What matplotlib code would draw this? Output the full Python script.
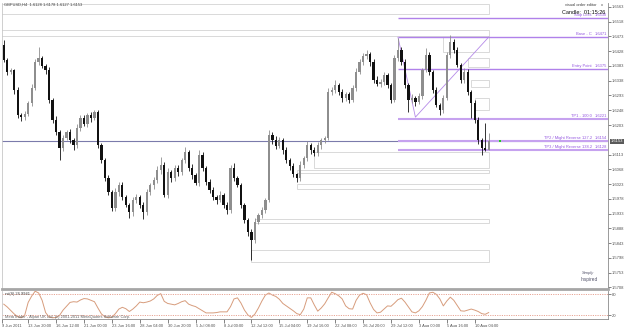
import matplotlib
matplotlib.use('agg')
import matplotlib.pyplot as plt
from matplotlib.patches import Rectangle

plt.rcParams['font.family'] = ['Liberation Sans', 'DejaVu Sans']

# GBPUSD H4, one candle per 8h, closes
first_open = 1.6447
closes = [1.6401, 1.6364, 1.6370, 1.6309, 1.6233, 1.6227, 1.6236, 1.6270, 1.6316, 1.6395,
          1.6407, 1.6383, 1.6370, 1.6279, 1.6218, 1.6181, 1.6133, 1.6163, 1.6181, 1.6157,
          1.6142, 1.6194, 1.6224, 1.6206, 1.6233, 1.6224, 1.6242, 1.6142, 1.6096, 1.6041,
          1.5998, 1.5950, 1.5998, 1.6020, 1.5983, 1.5959, 1.5937, 1.5974, 1.5983, 1.5959,
          1.5937, 1.5998, 1.6020, 1.6035, 1.6065, 1.6081, 1.5989, 1.6059, 1.6041, 1.6072,
          1.6059, 1.6096, 1.6120, 1.6072, 1.6050, 1.6026, 1.6111, 1.6072, 1.6029, 1.6004,
          1.5983, 1.5974, 1.5989, 1.5959, 1.5943, 1.6072, 1.6041, 1.6020, 1.5959, 1.5913,
          1.5876, 1.5852, 1.5907, 1.5928, 1.5943, 1.5974, 1.6172, 1.6157, 1.6139, 1.6157,
          1.6126, 1.6096, 1.6078, 1.6053, 1.6041, 1.6081, 1.6102, 1.6142, 1.6126, 1.6117,
          1.6142, 1.6157, 1.6163, 1.6303, 1.6309, 1.6325, 1.6303, 1.6285, 1.6297, 1.6279,
          1.6316, 1.6364, 1.6395, 1.6413, 1.6419, 1.6395, 1.6340, 1.6328, 1.6334, 1.6355,
          1.6325, 1.6279, 1.6407, 1.6432, 1.6395, 1.6325, 1.6279, 1.6285, 1.6273, 1.6291,
          1.6370, 1.6416, 1.6364, 1.6309, 1.6264, 1.6248, 1.6285, 1.6416, 1.6456, 1.6432,
          1.6386, 1.6340, 1.6364, 1.6303, 1.6270, 1.6218, 1.6157, 1.6133, 1.6128, 1.6153]
# wicks beyond the body, in pips
wick_up = [15, 6, 8, 5, 10, 7, 9, 6, 12, 8,
           34, 7, 5, 9, 6, 11, 8, 10, 6, 9,
           7, 12, 8, 10, 6, 9, 6, 8, 5, 7,
           9, 6, 12, 8, 10, 7, 5, 9, 11, 6,
           8, 10, 7, 9, 12, 24, 8, 14, 6, 10,
           9, 7, 16, 8, 11, 6, 15, 9, 7, 8,
           10, 6, 12, 7, 9, 9, 14, 8, 6, 7,
           5, 9, 12, 8, 10, 7, 15, 9, 11, 8,
           6, 10, 7, 9, 5, 11, 8, 12, 7, 9,
           10, 6, 8, 13, 9, 15, 7, 10, 8, 6,
           9, 12, 8, 10, 13, 7, 9, 11, 8, 10,
           7, 6, 10, 36, 8, 9, 7, 12, 6, 10,
           8, 22, 9, 7, 10, 6, 11, 9, 21, 8,
           10, 7, 12, 9, 6, 10, 8, 7, 76, 25]
wick_dn = [6, 8, 7, 10, 9, 12, 8, 6, 10, 7,
           9, 6, 11, 8, 10, 7, 37, 9, 6, 10,
           16, 8, 10, 7, 9, 11, 6, 8, 10, 9,
           7, 10, 8, 12, 9, 6, 18, 10, 8, 9,
           21, 7, 9, 12, 8, 10, 6, 9, 11, 8,
           10, 7, 9, 8, 12, 6, 9, 10, 8, 7,
           9, 11, 7, 10, 12, 8, 9, 6, 10, 8,
           12, 61, 9, 7, 10, 8, 6, 11, 9, 7,
           10, 8, 12, 7, 12, 9, 9, 8, 10, 7,
           9, 11, 8, 6, 10, 7, 9, 12, 8, 10,
           7, 9, 6, 10, 8, 11, 9, 7, 10, 8,
           9, 9, 7, 8, 10, 9, 37, 8, 11, 7,
           9, 6, 10, 8, 7, 15, 9, 6, 8, 10,
           7, 9, 8, 10, 46, 9, 12, 22, 5, 1]
rsi = [51, 43, 33, 23, 15, 12, 19, 56, 74, 88,
       83, 62, 27, 14, 12, 13, 19, 34, 45, 56,
       58, 57, 63, 67, 66, 62, 58, 40, 23, 15,
       12, 14, 24, 37, 42, 38, 30, 37, 46, 57,
       55, 57, 60, 66, 76, 81, 59, 53, 51, 49,
       53, 58, 61, 51, 47, 44, 38, 32, 26, 26,
       26, 27, 29, 29, 29, 44, 66, 69, 54, 34,
       20, 13, 23, 40, 60, 77, 83, 77, 73, 65,
       53, 46, 39, 32, 24, 21, 37, 69, 69, 49,
       31, 40, 52, 69, 85, 81, 75, 66, 46, 38,
       37, 62, 77, 82, 78, 55, 36, 26, 28, 37,
       46, 45, 54, 64, 68, 57, 43, 29, 26, 32,
       44, 62, 83, 85, 79, 66, 46, 60, 71, 62,
       47, 32, 31, 34, 37, 34, 30, 24, 22, 26.9941]
rsi_levels = [80, 20]

price_ticks = [1.6563, 1.6518, 1.6473, 1.6428, 1.6383, 1.6338, 1.6293, 1.6248, 1.6203,
               1.6113, 1.6068, 1.6023, 1.5978, 1.5933, 1.5888, 1.5843, 1.5798, 1.5753, 1.5708]
time_labels = ["9 Jun 2011", "13 Jun 20:00", "16 Jun 12:00", "21 Jun 00:00", "23 Jun 16:00",
               "28 Jun 04:00", "30 Jun 20:00", "5 Jul 08:00", "8 Jul 00:00", "12 Jul 12:00",
               "15 Jul 04:00", "19 Jul 16:00", "22 Jul 08:00", "26 Jul 20:00", "29 Jul 12:00",
               "3 Aug 00:00", "5 Aug 16:00", "10 Aug 04:00"]

# visual order editor levels
level_names = ["Stop Loss", "Base - C", "Entry Point", "TP1 - 100.0",
               "TP2 / Might Reverse 127.2", "TP3 / Might Reverse 138.2"]
level_prices = [1.6530, 1.6471, 1.6375, 1.6221, 1.6154, 1.6128]
level_start = 113
abc_bar = [113, 118, 139]
abc_price = [1.6471, 1.6227, 1.6471]

# support/resistance zones (start bar, top, bottom)
zone_start = [-1, -1, 126, 133, 134, 135, 89, 84, 84, 72, 71]
zone_top = [1.6572, 1.6492, 1.6474, 1.6407, 1.6340, 1.6285, 1.6120, 1.6065, 1.6023, 1.5916, 1.5822]
zone_bot = [1.6541, 1.6474, 1.6425, 1.6380, 1.6319, 1.6248, 1.6072, 1.6056, 1.6008, 1.5904, 1.5785]

bid = 1.6153
W, H = 625.0, 327.0

fig = plt.figure(figsize=(6.25, 3.27), dpi=100)
ax = fig.add_axes([2/W, 1-289/H, 606/W, 286/H])
ax2 = fig.add_axes([2/W, 1-319/H, 606/W, 28/H])

n = len(closes)
idx = list(range(n))
opens = [first_open] + closes[:-1]
highs = [max(o, c) + u/10000.0 for o, c, u in zip(opens, closes, wick_up)]
lows = [min(o, c) - d/10000.0 for o, c, d in zip(opens, closes, wick_dn)]
cols = ['#8e8e8e' if c >= o else '#111111' for o, c in zip(opens, closes)]
bodies = [max(abs(c-o), 0.00006) for o, c in zip(opens, closes)]
bottoms = [min(o, c) for o, c in zip(opens, closes)]

xmax = 173.2
# zones
for s, t, b in zip(zone_start, zone_top, zone_bot):
    ax.add_patch(Rectangle((s, b), n-0.9-s, t-b, fill=False, ec='#d9d9d9', lw=0.7, zorder=1))

ax.axhline(bid, color='#7b7bab', lw=0.8, zorder=1)
ax.vlines(idx, lows, highs, colors=cols, lw=0.6, zorder=3)
ax.bar(idx, bodies, bottom=bottoms, width=0.65, color=cols, lw=0, zorder=3)

for i, (name, p) in enumerate(zip(level_names, level_prices)):
    tp = name.startswith('TP')
    ax.hlines(p, level_start, xmax, colors='#c6a2ef' if tp else '#b081ea',
              lw=1.5 if tp else 1.0, zorder=2)
    ax.text(168.6, p+0.0002, name, fontsize=2.9, color='#9456e0', ha='right', va='bottom', zorder=4)
    ax.text(173.0, p+0.0002, "%.4f" % p, fontsize=2.9, color='#9456e0', ha='right', va='bottom', zorder=4)
ax.plot(abc_bar, abc_price, color='#b58ae8', lw=0.6, zorder=2)
ax.plot([n+2.2], [bid], 's', color='#22cc22', ms=2.0, mew=0, zorder=5)

ax.set_xlim(-0.5, xmax)
ax.set_ylim(1.5703, 1.6575)
ax.set_xticks([])
ax.yaxis.tick_right()
ax.set_yticks(price_ticks)
ax.set_yticklabels(["%.4f" % v for v in price_ticks])
ax.tick_params(axis='y', labelsize=3.0, colors='#505050', length=2, width=0.5, pad=1)
ax.spines['top'].set_visible(False)
ax.spines['left'].set_color('#c8c8c8')
ax.spines['left'].set_linewidth(0.6)
ax.spines['right'].set_color('#8a8a8a')
ax.spines['right'].set_linewidth(0.6)
ax.spines['bottom'].set_color('#a6a6a6')
ax.spines['bottom'].set_linewidth(2.0)
ax.text(173.9, bid, "%.4f" % bid, fontsize=3.0, color='white', ha='left', va='center',
        bbox={'facecolor': '#5a5a5a', 'edgecolor': 'none', 'pad': 0.6}, clip_on=False, zorder=6)

# oscillator pane
ax2.plot(idx, rsi, color='#d79c7c', lw=0.7)
for lv in rsi_levels:
    ax2.axhline(lv, color='#e8a595', lw=0.7, ls=(0, (1.2, 1.2)))
ax2.set_xlim(-0.5, xmax)
ax2.set_ylim(8.6, 88.6)
ax2.yaxis.tick_right()
ax2.set_yticks(rsi_levels)
ax2.set_yticklabels([str(v) for v in rsi_levels])
ax2.tick_params(axis='y', labelsize=3.0, colors='#505050', length=2, width=0.5, pad=1)
ax2.set_xticks([-0.5] + [7 + 8*j for j in range(len(time_labels)-1)])
ax2.set_xticklabels(time_labels, ha='left')
ax2.tick_params(axis='x', labelsize=2.9, colors='#505050', length=3, width=0.5, pad=0.8)
ax2.spines['top'].set_visible(False)
ax2.spines['left'].set_color('#c8c8c8')
ax2.spines['left'].set_linewidth(0.6)
ax2.spines['right'].set_color('#8a8a8a')
ax2.spines['right'].set_linewidth(0.6)
ax2.spines['bottom'].set_color('#8a8a8a')
ax2.spines['bottom'].set_linewidth(0.6)
ax2.text(0.3, 86, "rsi(8) %.4f" % rsi[-1], fontsize=2.9, color='#404040', va='top')
ax2.text(0.3, 13, "MetaTrader - Alpari UK Ltd. (c) 2001-2011 MetaQuotes Software Corp.",
         fontsize=2.9, color='#606060', va='center')

# chart header / panel texts
fig.text(4/W, 1-4.5/H, "GBPUSD,H4  %.4f %.4f %.4f %.4f" % (opens[-1], highs[-1], lows[-1], closes[-1]),
         fontsize=2.9, color='#404040', va='center')
fig.text(597/W, 1-5/H, "visual order editor", fontsize=2.9, color='#404040', ha='right', va='center')
fig.text(601/W, 1-5/H, "x", fontsize=2.9, color='#404040', ha='left', va='center')
fig.text(605/W, 1-12/H, "Candle:  01:15:26", fontsize=4.0, color='#111111', ha='right', va='center')
fig.text(594/W, 1-273/H, "Simply", fontsize=3.0, color='#505068', ha='right', va='center', style='italic')
fig.text(589/W, 1-279/H, "Inspired", fontsize=3.4, color='#505068', ha='center', va='center')

plt.savefig('out.png', dpi=100)
plt.close(fig)
